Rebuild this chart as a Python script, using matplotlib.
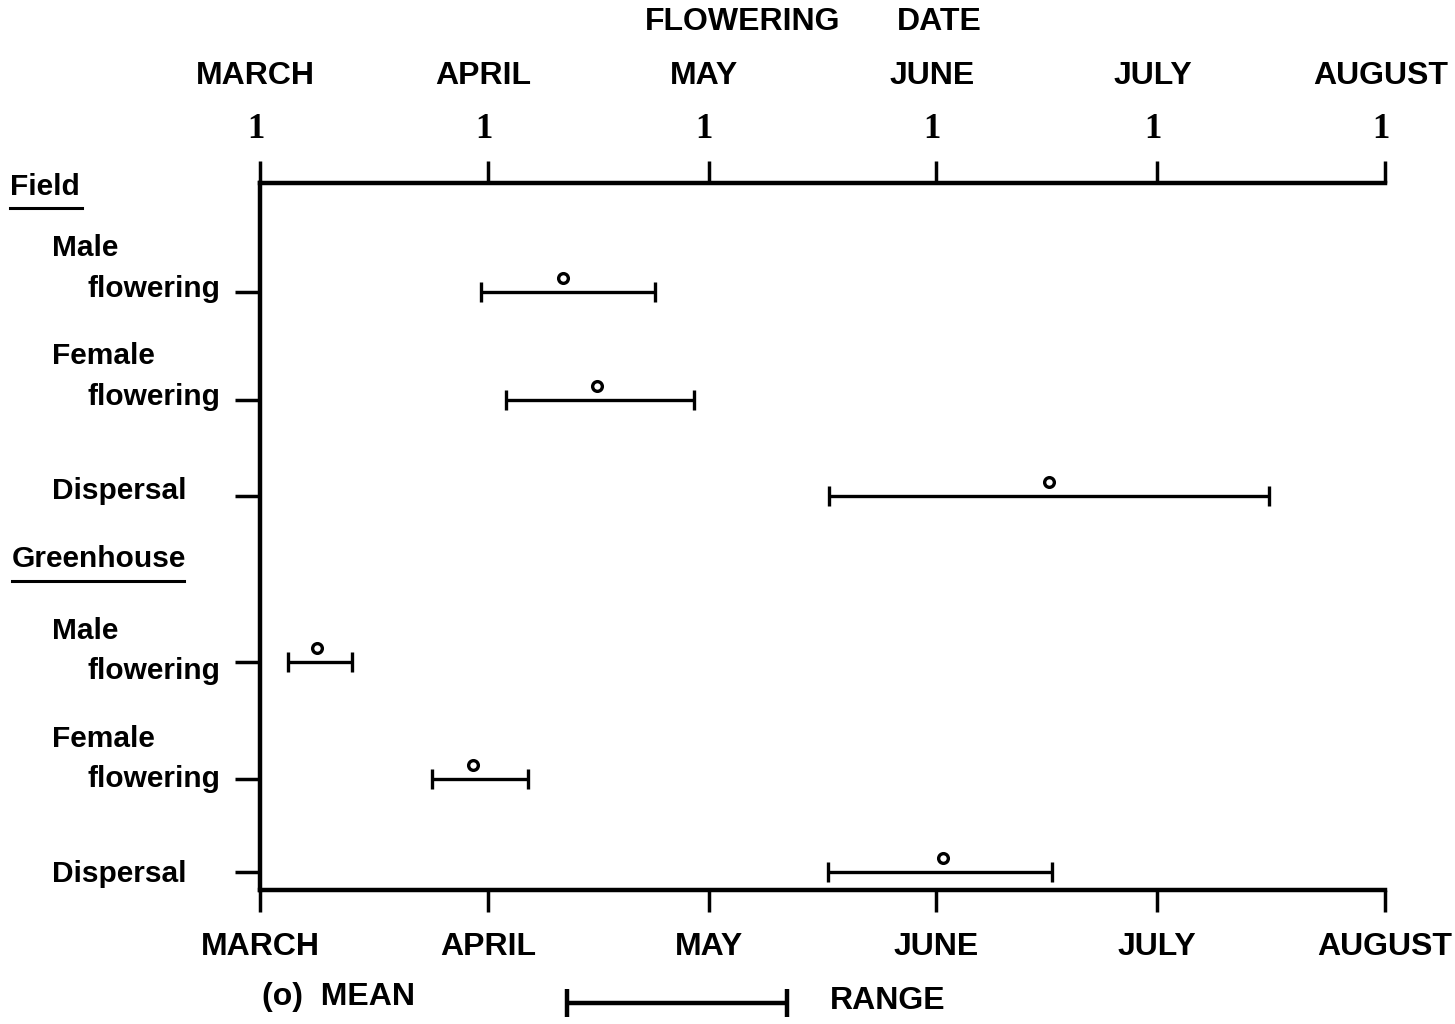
import matplotlib.pyplot as plt
from matplotlib.lines import Line2D
from matplotlib.transforms import blended_transform_factory
import numpy as np

# days counted from March 1
month_names = ['MARCH', 'APRIL', 'MAY', 'JUNE', 'JULY', 'AUGUST']
month_start = [0, 31, 61, 92, 122, 153]

groups = ['Field', 'Greenhouse']
stages = [('Male', 'flowering'), ('Female', 'flowering'), ('Dispersal',)]

# field then greenhouse: male, female, dispersal
range_lo = [30.0, 33.5, 77.4, 3.8, 23.4, 77.2]
range_hi = [53.7, 59.0, 137.2, 12.5, 36.4, 107.7]
means = [41.2, 45.8, 107.3, 7.8, 29.0, 92.9]

W, H = 1455, 1024
fig = plt.figure(figsize=(W / 100, H / 100), dpi=100)
plt.rcParams['font.family'] = ['Liberation Sans', 'DejaVu Sans']

# axes frame in pixels
x0, x1, ytop, ybot = 260, 1385, 183, 890
ax = fig.add_axes([x0 / W, 1 - ybot / H, (x1 - x0) / W, (ybot - ytop) / H])
ax.set_xlim(0, 153)
ax.set_ylim(ybot - ytop, 0)

# row positions (pixels below top axis)
row_y = [292, 400, 496, 662, 779, 872]
rows = [y - ytop for y in row_y]

ax.spines['right'].set_visible(False)
for s in ['top', 'bottom', 'left']:
    ax.spines[s].set_linewidth(3.2)

ax.set_xticks(month_start)
ax.set_xticklabels(month_names)
ax.tick_params(axis='x', which='both', top=True, bottom=True, labeltop=False,
               labelbottom=True, direction='out', length=16, width=2.5,
               pad=14, labelsize=23)
for lab in ax.get_xticklabels():
    lab.set_fontweight('bold')

# top labels: month name and "1" in serif
trans = blended_transform_factory(ax.transData, fig.transFigure)
for d, m in zip(month_start, month_names):
    ax.text(d - 0.6, 1 - 130 / H, '1', transform=trans, ha='center', va='center',
            fontsize=25, fontweight='bold', family='Liberation Serif')
    ax.text(d - 0.6, 1 - 76 / H, m, transform=trans, ha='center', va='center',
            fontsize=23, fontweight='bold')

ax.set_yticks(rows)
ax.set_yticklabels([])
ax.tick_params(axis='y', direction='out', length=18, width=2.5)

# ranges and means
for lo, hi, mu, y in zip(range_lo, range_hi, means, rows):
    ax.errorbar((lo + hi) / 2, y, xerr=(hi - lo) / 2, fmt='none', ecolor='black',
                elinewidth=2.4, capsize=7.5, capthick=2.4)
    ax.plot(mu, y - 14, 'o', mfc='white', mec='black', ms=7, mew=2.4)

ax.patch.set_alpha(0)


def ftext(x, y, s, size=21.5, **kw):
    fig.text(x / W, 1 - y / H, s, fontsize=size, fontweight='bold', va='center', **kw)


def uline(xa, xb, y):
    fig.add_artist(Line2D([xa / W, xb / W], [1 - y / H, 1 - y / H], color='black',
                          lw=2.2, transform=fig.transFigure))


ftext(743, 22, 'FLOWERING', size=23, ha='center')
ftext(939, 22, 'DATE', size=23, ha='center')

ftext(10, 187, groups[0])
uline(10, 82, 208)
ftext(12, 559, groups[1])
uline(12, 184, 581)

# label text positions (pixels) for field and greenhouse blocks
label_y = [[(248, 289), (356, 397), (491,)],
           [(631, 671), (739, 779), (874,)]]
for blk in label_y:
    for parts, ys in zip(stages, blk):
        for i, (p, yy) in enumerate(zip(parts, ys)):
            ftext(52 if i == 0 else 88, yy, p)

# legend
ftext(262, 997, '(o)  MEAN', size=23)
lax = fig.add_axes([0, 0, 1, 1], zorder=-1)
lax.set_xlim(0, W)
lax.set_ylim(H, 0)
lax.axis('off')
lax.errorbar(677, 1003, xerr=110, fmt='none', ecolor='black', elinewidth=3.2,
             capsize=10, capthick=3.2)
ftext(830, 1001, 'RANGE', size=23)

fig.savefig('out.png', dpi=100, facecolor='white')
